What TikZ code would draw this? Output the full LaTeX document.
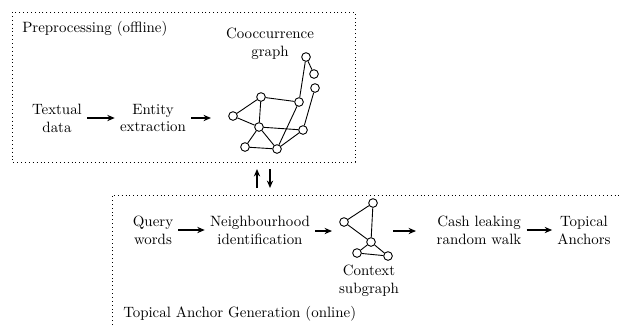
\documentclass[tikz,border=0pt]{standalone}
\usetikzlibrary{arrows.meta}

\newcommand{\pxscl}{0.67pt}
\newcommand{\vn}{\node[circle, draw, semithick, fill=white, inner sep=0pt, minimum size=5.8pt]}
\newcommand{\tn}{\node[align=center]}

\begin{document}
\begin{tikzpicture}[x=\pxscl, y=-\pxscl, >={Stealth[length=5pt, width=4.2pt]}]
            \useasboundingbox (0,0) rectangle (621,325);

            % offline box
            \coordinate (off1) at (12,12);
            \coordinate (off2) at (355,162);
            \draw[dotted, semithick] (off1) rectangle (off2);
            \node[anchor=base west] (offlbl) at (17,32) {Preprocessing (offline)};

            \tn (td) at (57,118) {Textual\\data};
            \tn (ee) at (153,118) {Entity\\extraction};
            \tn (cg) at (270,44) {Cooccurrence\\graph};
            \coordinate (gin) at (211,118);

            % cooccurrence graph
            \vn (ga) at (306,57) {};
            \vn (gb) at (314,74) {};
            \vn (gc) at (315,88) {};
            \vn (gd) at (261,97) {};
            \vn (ge) at (299,102) {};
            \vn (gf) at (233,116) {};
            \vn (gg) at (259,127) {};
            \vn (gh) at (303,130) {};
            \vn (gi) at (245,147) {};
            \vn (gj) at (277,149) {};

            \draw[semithick]
                (ga) -- (gb)
                (ga) -- (ge)
                (gc) -- (gh)
                (gd) -- (ge)
                (gd) -- (gf)
                (gd) -- (gg)
                (gf) -- (gg)
                (gg) -- (gh)
                (gg) -- (gi)
                (gg) -- (gj)
                (gi) -- (gj)
                (gj) -- (ge)
                (gj) -- (gh)
                ;

            \draw[->, thick] (td) -- (ee);
            \draw[->, thick] (ee) -- (gin);

            % between the two parts
            \coordinate (upa) at (257,188);
            \coordinate (upb) at (257,169);
            \coordinate (dna) at (270,169);
            \coordinate (dnb) at (270,188);
            \draw[->, thick] (upa) -- (upb);
            \draw[->, thick] (dna) -- (dnb);

            % online box, runs off the page
            \coordinate (on1) at (112,325);
            \coordinate (on2) at (112,195);
            \coordinate (on3) at (621,195);
            \draw[dotted, semithick] (on1) -- (on2) -- (on3);
            \node[anchor=base west] (onlbl) at (118,317) {Topical Anchor Generation (online)};

            \tn (qw) at (153,230) {Query\\words};
            \tn (ni) at (260,230) {Neighbourhood\\identification};
            \tn (cs) at (369,281) {Context\\subgraph};
            \tn (cl) at (479,230) {Cash leaking\\random walk};
            \tn (ta) at (584,230) {Topical\\Anchors};
            \coordinate (sgin) at (332,231);
            \coordinate (sgout) at (393,231);
            \coordinate (clin) at (416,231);

            % context subgraph
            \vn (sp) at (373,203) {};
            \vn (sq) at (344,222) {};
            \vn (sr) at (371,242) {};
            \vn (ss) at (357,253) {};
            \vn (st) at (388,256) {};

            \draw[semithick]
                (sp) -- (sq)
                (sp) -- (sr)
                (sq) -- (sr)
                (sr) -- (ss)
                (sr) -- (st)
                (ss) -- (st)
                ;

            \draw[->, thick] (qw) -- (ni);
            \draw[->, thick] (ni.east |- sgin) -- (sgin);
            \draw[->, thick] (sgout) -- (clin);
            \draw[->, thick] (cl) -- (ta);
        \end{tikzpicture}
\end{document}
